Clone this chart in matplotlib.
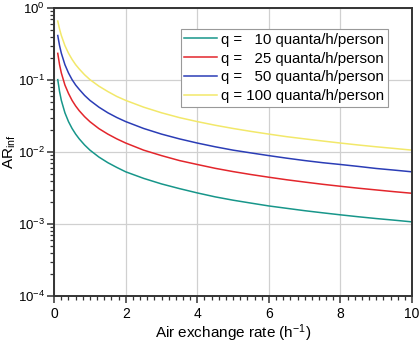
import matplotlib
matplotlib.use("Agg")
import matplotlib.pyplot as plt
from matplotlib.ticker import FixedLocator, LogLocator, MultipleLocator, NullFormatter

plt.rcParams['font.family'] = ['Liberation Sans', 'DejaVu Sans']
plt.rcParams['mathtext.fontset'] = 'custom'
plt.rcParams['mathtext.rm'] = 'Liberation Sans'
plt.rcParams['mathtext.it'] = 'Liberation Sans'

# air exchange rate (1/h)
ach = [0.1, 0.15, 0.2, 0.3, 0.4, 0.5, 0.6, 0.7, 0.85, 1.0, 1.25, 1.5, 1.75,
       2.0, 2.5, 3.0, 3.5, 4.0, 4.5, 5.0, 5.5, 6.0, 6.5, 7.0, 7.5, 8.0,
       8.5, 9.0, 9.5, 10.0]

ar_q10 = [0.101, 0.069, 0.052, 0.035, 0.0264, 0.0212, 0.0177, 0.0152, 0.0125,
          0.0106, 0.0085, 0.0071, 0.0061, 0.0053, 0.0043, 0.0036, 0.0031,
          0.0027, 0.00238, 0.00214, 0.00195, 0.00178, 0.00165, 0.00153,
          0.00143, 0.00134, 0.00126, 0.00119, 0.00113, 0.00107]
ar_q25 = [0.234, 0.163, 0.125, 0.085, 0.065, 0.052, 0.0435, 0.0374, 0.0309,
          0.0263, 0.0211, 0.0177, 0.0152, 0.0133, 0.0106, 0.0089, 0.0076,
          0.0067, 0.00593, 0.00534, 0.00486, 0.00446, 0.00411, 0.00382,
          0.00356, 0.00334, 0.00314, 0.00297, 0.00281, 0.00267]
ar_q50 = [0.414, 0.30, 0.235, 0.163, 0.125, 0.101, 0.085, 0.074, 0.061,
          0.052, 0.0419, 0.035, 0.0301, 0.0264, 0.0212, 0.0177, 0.0152,
          0.0133, 0.0118, 0.0106, 0.0097, 0.0089, 0.0082, 0.0076, 0.0071,
          0.0067, 0.0063, 0.0059, 0.0056, 0.0053]
ar_q100 = [0.657, 0.51, 0.414, 0.30, 0.235, 0.193, 0.163, 0.142, 0.118,
           0.101, 0.082, 0.069, 0.059, 0.052, 0.0419, 0.035, 0.030,
           0.0264, 0.0235, 0.0212, 0.0193, 0.0177, 0.0163, 0.0152, 0.0142,
           0.0133, 0.0125, 0.0118, 0.0112, 0.0106]

labels = ['q =   10 quanta/h/person', 'q =   25 quanta/h/person',
          'q =   50 quanta/h/person', 'q = 100 quanta/h/person']
colors = ['#17968a', '#e3262c', '#2b3db6', '#f2e86a']

fig = plt.figure(figsize=(4.2, 3.45), dpi=100)
ax = fig.add_axes([0.129, 0.142, 0.852, 0.835])

for ys, lab, col in zip([ar_q10, ar_q25, ar_q50, ar_q100], labels, colors):
    ax.plot(ach, ys, color=col, lw=1.1, label=lab)

ax.set_yscale('log')
ax.set_xlim(0, 10)
ax.set_ylim(1e-4, 1)

ax.xaxis.set_major_locator(MultipleLocator(2))
ax.xaxis.set_minor_locator(MultipleLocator(0.2))
ax.yaxis.set_major_locator(FixedLocator([1e-4, 1e-3, 1e-2, 1e-1, 1]))
ax.yaxis.set_minor_locator(LogLocator(base=10, subs=range(2, 10), numticks=20))
ax.yaxis.set_minor_formatter(NullFormatter())
ax.set_yticklabels([r'$\mathregular{10^{-4}}$', r'$\mathregular{10^{-3}}$',
                    r'$\mathregular{10^{-2}}$', r'$\mathregular{10^{-1}}$',
                    r'$\mathregular{10^{0}}$'])

ax.tick_params(which='major', direction='out', length=5, width=1.1,
               labelsize=10, color='#333333', top=False, right=False)
ax.tick_params(axis='x', which='major', pad=3)
ax.tick_params(axis='y', which='major', pad=1.5, labelsize=9.5)
ax.tick_params(which='minor', direction='out', length=3, width=0.9,
               color='#333333', top=False, right=False)
for s in ax.spines.values():
    s.set_linewidth(1.4)
    s.set_color('#333333')

ax.grid(True, which='major', color='#d0d0d0', lw=0.9)
ax.set_axisbelow(True)

ax.set_xlabel(r'Air exchange rate (h$^{\mathregular{-1}}$)', fontsize=11)
ax.xaxis.set_label_coords(0.5, -0.09)
ax.set_ylabel(r'AR$_{\mathregular{inf}}$', fontsize=11)
ax.yaxis.set_label_coords(-0.1, 0.5)

leg = ax.legend(loc='upper right', bbox_to_anchor=(0.933, 0.927), fontsize=10.8,
                fancybox=False, framealpha=1, edgecolor='#999999',
                handlelength=2.2, handletextpad=0.25, borderpad=0.25,
                labelspacing=0.32, borderaxespad=0)
leg.get_frame().set_linewidth(0.8)

fig.savefig('out.png', dpi=100)
